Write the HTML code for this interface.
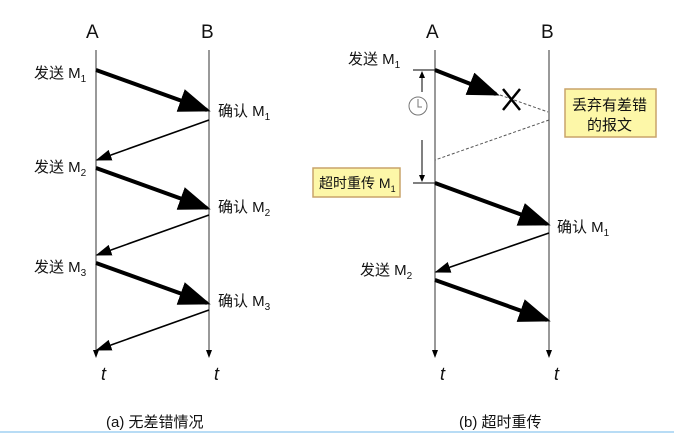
<!DOCTYPE html>
<html><head><meta charset="utf-8"><style>
body{margin:0;background:#fff;width:674px;height:433px;overflow:hidden}
text{font-family:"Liberation Sans","Noto Sans CJK SC",sans-serif;fill:#111}
</style></head><body>
<svg width="674" height="433" viewBox="0 0 674 433">
<defs>
<marker id="big" markerWidth="8" markerHeight="6" refX="7" refY="3" orient="auto" markerUnits="strokeWidth"><path d="M0,0 L8,3 L0,6 z" fill="#000"/></marker>
<marker id="sm" markerWidth="10" markerHeight="7" refX="9" refY="3.5" orient="auto" markerUnits="strokeWidth"><path d="M0,0 L10,3.5 L0,7 z" fill="#000"/></marker>
</defs>
<g font-size="19"><text x="86" y="38">A</text><text x="201" y="38">B</text><text x="426" y="38">A</text><text x="541" y="38">B</text></g>
<g stroke="#333" stroke-width="1">
<line x1="96" y1="50" x2="96" y2="352"/><line x1="209" y1="50" x2="209" y2="352"/>
<line x1="435" y1="50" x2="435" y2="352"/><line x1="549" y1="50" x2="549" y2="352"/>
</g>
<g fill="#000"><path d="M93,350 L99,350 L96,358z"/><path d="M206,350 L212,350 L209,358z"/><path d="M432,350 L438,350 L435,358z"/><path d="M546,350 L552,350 L549,358z"/></g>
<g font-size="18" font-style="italic"><text x="101" y="380">t</text><text x="214" y="380">t</text><text x="440" y="380">t</text><text x="554" y="380">t</text></g>
<g stroke="#000" fill="none">
<line x1="96" y1="70" x2="207" y2="110" stroke-width="4" marker-end="url(#big)"/>
<line x1="209" y1="120" x2="97" y2="160" stroke-width="1.6" marker-end="url(#sm)"/>
<line x1="96" y1="168" x2="207" y2="208" stroke-width="4" marker-end="url(#big)"/>
<line x1="209" y1="215" x2="97" y2="255" stroke-width="1.6" marker-end="url(#sm)"/>
<line x1="96" y1="263" x2="207" y2="303" stroke-width="4" marker-end="url(#big)"/>
<line x1="209" y1="310" x2="97" y2="350" stroke-width="1.6" marker-end="url(#sm)"/>
<line x1="435" y1="70" x2="496" y2="94" stroke-width="4" marker-end="url(#big)"/>
<line x1="435" y1="183" x2="547" y2="224" stroke-width="4" marker-end="url(#big)"/>
<line x1="549" y1="233" x2="436" y2="272" stroke-width="1.6" marker-end="url(#sm)"/>
<line x1="435" y1="280" x2="547" y2="320" stroke-width="4" marker-end="url(#big)"/>
<line x1="500" y1="95" x2="548" y2="112" stroke="#555" stroke-dasharray="3,2"/>
<line x1="549" y1="120" x2="435" y2="160" stroke="#555" stroke-dasharray="3,2"/>
<path d="M503,89 L520,110 M520,89 L503,110" stroke-width="2.5"/>
<line x1="413" y1="70" x2="435" y2="70"/><line x1="413" y1="183" x2="435" y2="183"/>
<line x1="422" y1="72" x2="422" y2="92"/><line x1="422" y1="140" x2="422" y2="181"/>
<circle cx="418" cy="106" r="9" stroke="#777"/><path d="M418,99 L418,107 L422,107" stroke="#777"/>
</g>
<g fill="#000"><path d="M419,78 L425,78 L422,71z"/><path d="M419,175 L425,175 L422,182z"/></g>
<g font-size="15">
<text x="34" y="78">发送 M<tspan font-size="10" dy="4">1</tspan></text>
<text x="218" y="116">确认 M<tspan font-size="10" dy="4">1</tspan></text>
<text x="34" y="172">发送 M<tspan font-size="10" dy="4">2</tspan></text>
<text x="218" y="212">确认 M<tspan font-size="10" dy="4">2</tspan></text>
<text x="34" y="272">发送 M<tspan font-size="10" dy="4">3</tspan></text>
<text x="218" y="306">确认 M<tspan font-size="10" dy="4">3</tspan></text>
<text x="348" y="64">发送 M<tspan font-size="10" dy="4">1</tspan></text>
<text x="557" y="232">确认 M<tspan font-size="10" dy="4">1</tspan></text>
<text x="360" y="275">发送 M<tspan font-size="10" dy="4">2</tspan></text>
</g>
<rect x="565" y="89" width="91" height="48" fill="#fdf7a8" stroke="#c9a46a" stroke-width="1.5"/>
<text x="572" y="110" font-size="15">丢弃有差错</text>
<text x="587" y="130" font-size="15">的报文</text>
<rect x="313" y="168" width="87" height="29" fill="#fdf7a8" stroke="#c9a46a" stroke-width="1.5"/>
<text x="319" y="188" font-size="14">超时重传 M<tspan font-size="9" dy="4">1</tspan></text>
<text x="106" y="427" font-size="15">(a) 无差错情况</text>
<text x="459" y="427" font-size="15">(b) 超时重传</text>
<line x1="0" y1="432" x2="674" y2="432" stroke="#b8dcf5" stroke-width="2"/>
</svg>
</body></html>
